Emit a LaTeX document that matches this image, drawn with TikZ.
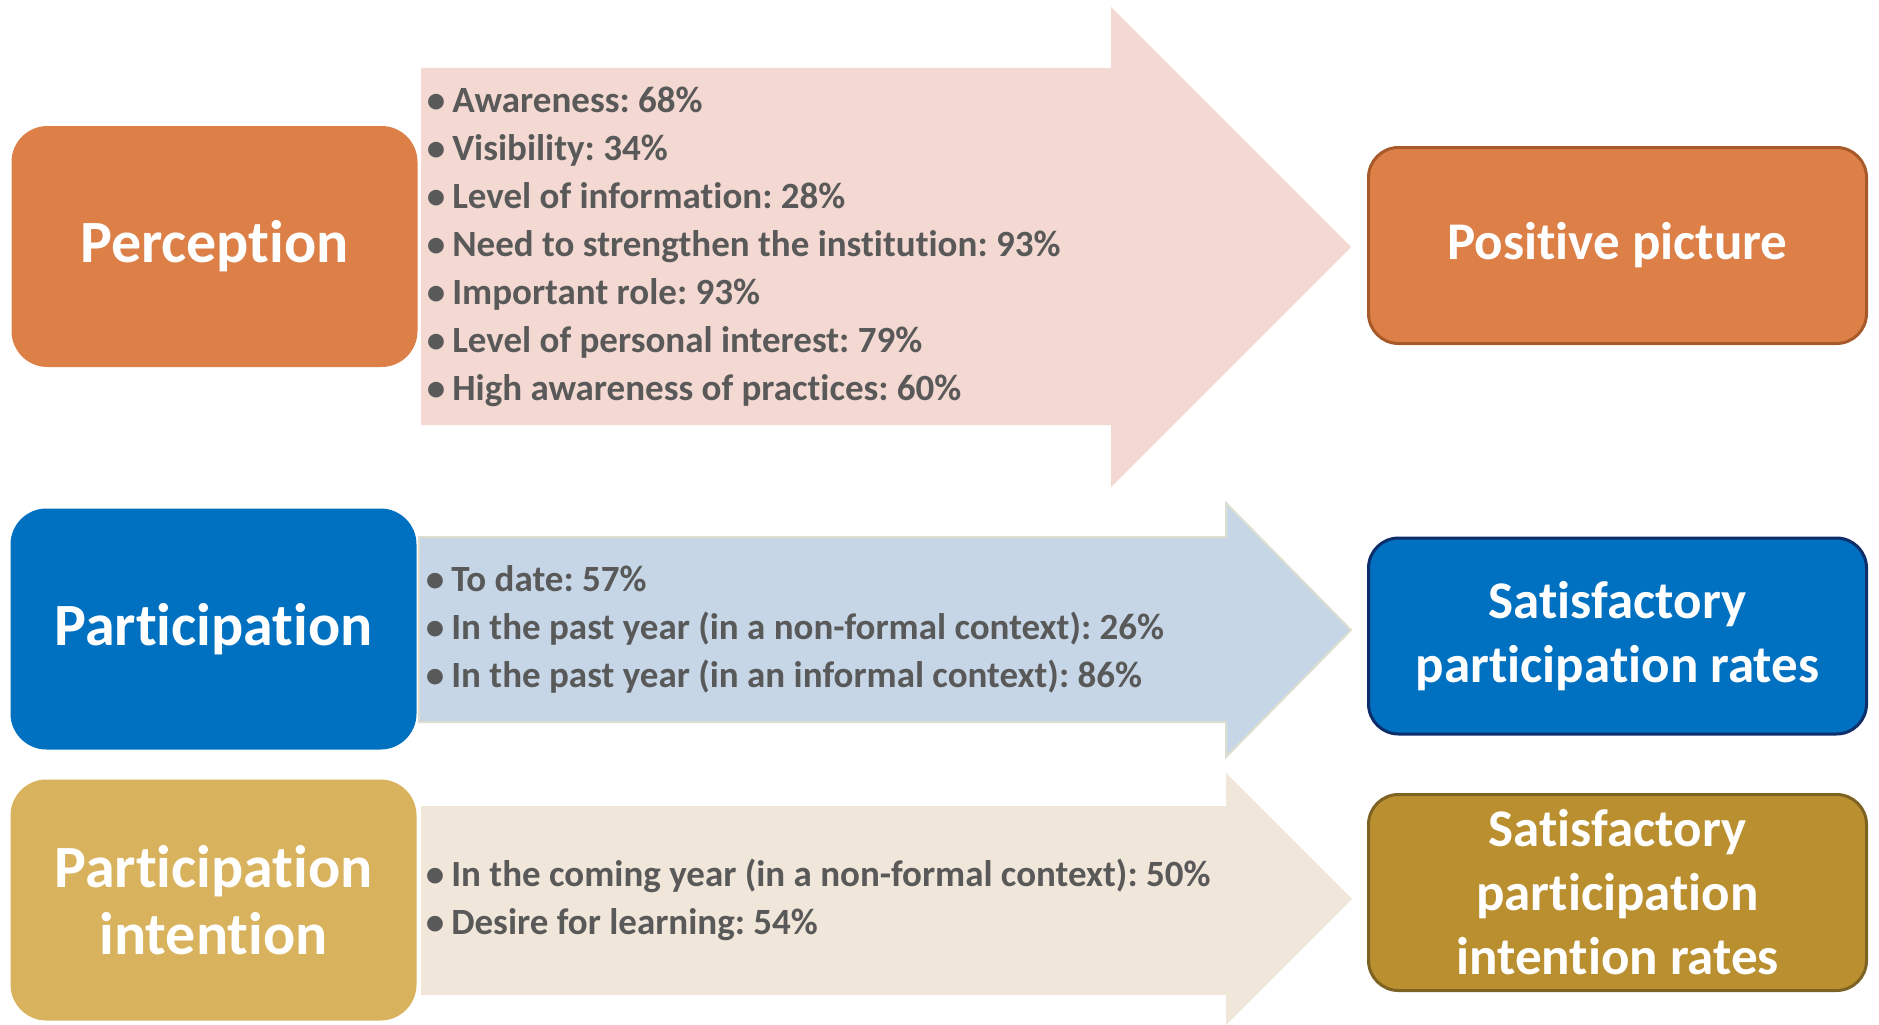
\documentclass[tikz,border=0pt]{standalone}
\usepackage{fontspec}
\setmainfont{Carlito}[Ligatures={NoCommon,NoRare,NoContextual}]
\usetikzlibrary{positioning}
\frenchspacing

\definecolor{percOrange}{HTML}{DD8047}
\definecolor{percLine}{HTML}{A8592A}
\definecolor{partBlue}{HTML}{0070C0}
\definecolor{partLine}{HTML}{0D2E6B}
\definecolor{intnGold}{HTML}{D8B25C}
\definecolor{satGold}{HTML}{BA8F30}
\definecolor{satLine}{HTML}{7D6224}
\definecolor{arrPink}{HTML}{F3D9D1}
\definecolor{arrBlue}{HTML}{C6D6E6}
\definecolor{arrBlueLine}{HTML}{DCDFD0}
\definecolor{arrBeige}{HTML}{F0E6D9}
\definecolor{itemGrey}{HTML}{595959}

\newcommand{\bul}{\textbullet\hspace{7pt}}

\begin{document}
\begin{tikzpicture}[x=1pt,y=-1pt,
	lbox/.style = {rounded corners=36pt, minimum width=406pt, minimum height=241pt, inner sep=0pt, text=white, align=center, font=\fontsize{60}{67}\selectfont\bfseries},
	rbox/.style = {draw, line width=3pt, rounded corners=30pt, minimum width=498pt, minimum height=196pt, inner sep=0pt, text=white, align=center, font=\fontsize{53}{64}\selectfont\bfseries},
	items/.style = {inner sep=0pt, anchor=west, align=left, text=itemGrey, font=\fontsize{37}{48}\selectfont\bfseries}]
	\useasboundingbox (0,0) rectangle (1879,1025);
	% arrows
	\fill[arrPink] (421,68) -- (1111,68) -- (1111,7) -- (1351,247) -- (1111,487) -- (1111,425) -- (421,425) -- cycle;
	\filldraw[fill=arrBlue, draw=arrBlueLine, line width=2pt] (419,537) -- (1226,537) -- (1226,503) -- (1351,630) -- (1226,757) -- (1226,722) -- (419,722) -- cycle;
	\fill[arrBeige] (421,806) -- (1226,806) -- (1226,773) -- (1352,899) -- (1226,1025) -- (1226,995) -- (421,995) -- cycle;
	% left boxes
	\node[lbox, fill=percOrange] (perc) at (214.5,246.5) {Perception};
	\node[lbox, fill=partBlue] (part) at (213.5,629) {Participation};
	\node[lbox, fill=intnGold] (intn) at (213.5,900) {Participation\\intention};
	% right boxes
	\node[rbox, fill=percOrange, draw=percLine] (pos) at (1617.5,245.5) {Positive picture};
	\node[rbox, fill=partBlue, draw=partLine] (satpart) at (1617.5,636) {Satisfactory\\participation rates};
	\node[rbox, fill=satGold, draw=satLine] (satint) at (1617.5,892.5) {Satisfactory\\participation\\intention rates};
	% lists
	\node[items, right=9pt of perc] (perclist) {\bul Awareness: 68\%\\\bul Visibility: 34\%\\\bul Level of information: 28\%\\\bul Need to strengthen the institution: 93\%\\\bul Important role: 93\%\\\bul Level of personal interest: 79\%\\\bul High awareness of practices: 60\%};
	\node[items, right=9pt of part] (partlist) {\bul To date: 57\%\\\bul In the past year (in a non-formal context): 26\%\\\bul In the past year (in an informal context): 86\%};
	\node[items, right=9pt of intn] (intnlist) {\bul In the coming year (in a non-formal context): 50\%\\\bul Desire for learning: 54\%};
\end{tikzpicture}
\end{document}
